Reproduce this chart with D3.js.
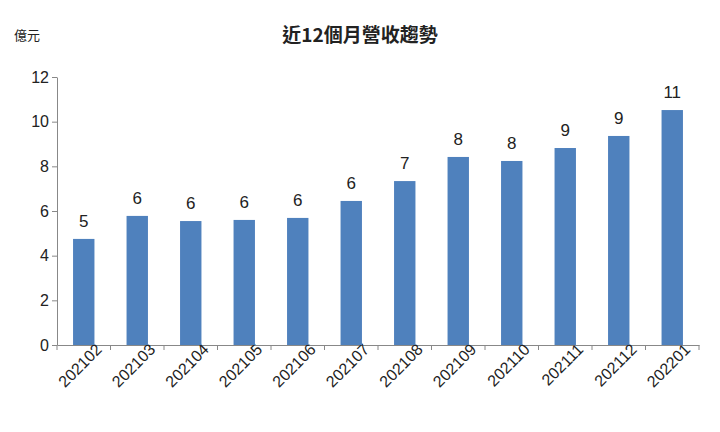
<!DOCTYPE html>
<html><head><meta charset="utf-8">
<script src="https://cdn.jsdelivr.net/npm/d3@7"></script>
<style>body{margin:0;background:#fff;font-family:"Noto Sans CJK TC","Noto Sans",sans-serif;}</style>
</head><body><div id="chart"></div>
<script>
var months = ["202102","202103","202104","202105","202106","202107","202108","202109","202110","202111","202112","202201"];
var revenue = [4.75,5.78,5.55,5.6,5.69,6.45,7.34,8.42,8.24,8.82,9.36,10.52];
var labels = ["5","6","6","6","6","6","7","8","8","9","9","11"];
var yTicks = [0,2,4,6,8,10,12];

var svg = d3.select("#chart").append("svg").attr("width",720).attr("height",432);
var x = d3.scaleBand().domain(months).range([57,699]).paddingInner(0.6).paddingOuter(0.3);
var y = d3.scaleLinear().domain([0,12]).range([345,77]);

svg.append("text").attr("x",360).attr("y",42).attr("text-anchor","middle")
  .attr("font-size",19).attr("font-weight","bold").attr("fill","#222").text("近12個月營收趨勢");
svg.append("text").attr("x",14).attr("y",40).attr("font-size",13).attr("fill","#222").text("億元");

var yAxis = svg.append("g").attr("transform","translate(57,0)")
  .call(d3.axisLeft(y).tickValues(yTicks).tickSize(5).tickSizeOuter(0));
yAxis.selectAll("text").attr("font-size",16).attr("fill","#222").attr("font-family","Liberation Sans, sans-serif");
yAxis.selectAll("path,line").attr("stroke","#888");

var xAxis = svg.append("g").attr("transform","translate(0,345)")
  .call(d3.axisBottom(x).tickSize(0).tickSizeOuter(0));
xAxis.select("path").attr("stroke","#888");
xAxis.selectAll("text").attr("font-size",16).attr("fill","#222").attr("font-family","Liberation Sans, sans-serif")
  .attr("text-anchor","end").attr("dx","0.6em").attr("dy","0.9em").attr("transform","rotate(-45)");
svg.append("g").selectAll("line").data(months.concat([""])).enter().append("line")
  .attr("x1",function(d,i){return 57+i*(642/12);}).attr("x2",function(d,i){return 57+i*(642/12);})
  .attr("y1",345).attr("y2",350).attr("stroke","#888");

svg.selectAll("rect.bar").data(revenue).enter().append("rect")
  .attr("x",function(d,i){return x(months[i]);}).attr("width",x.bandwidth())
  .attr("y",function(d){return y(d);}).attr("height",function(d){return 345-y(d);})
  .attr("fill","#4f81bd");

svg.selectAll("text.lbl").data(revenue).enter().append("text")
  .attr("x",function(d,i){return x(months[i])+x.bandwidth()/2;})
  .attr("y",function(d){return y(d)-12;}).attr("text-anchor","middle")
  .attr("font-size",17).attr("fill","#222").attr("font-family","Liberation Sans, sans-serif")
  .text(function(d,i){return labels[i];});
</script></body></html>
